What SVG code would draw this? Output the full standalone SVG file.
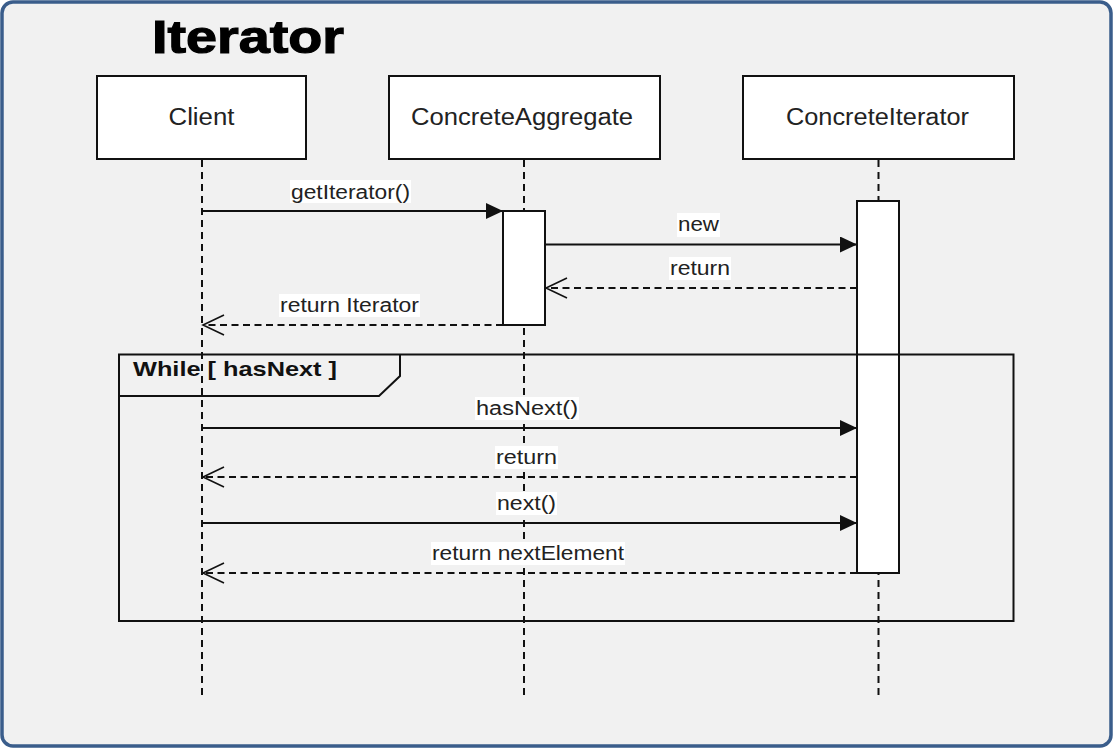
<svg xmlns="http://www.w3.org/2000/svg" width="1114" height="750" viewBox="0 0 1114 750">
<defs>
<style>
.box{fill:#fff;stroke:#111;stroke-width:2}
.life{stroke:#111;stroke-width:2;stroke-dasharray:7 5;fill:none}
.msg{stroke:#111;stroke-width:2;fill:none}
.ret{stroke:#111;stroke-width:2;fill:none;stroke-dasharray:7 4.5}
.lbl{font-family:"Liberation Sans",Arial,sans-serif;font-size:20px;fill:#222;text-anchor:middle}
.nm{font-family:"Liberation Sans",Arial,sans-serif;font-size:23px;fill:#222;text-anchor:middle}
.bg{fill:#fff}
</style>
<marker id="filled" markerWidth="18" markerHeight="16" refX="17" refY="8" orient="auto" markerUnits="userSpaceOnUse">
<path d="M0,0 L17,8 L0,16 Z" fill="#111"/>
</marker>
<marker id="open" markerWidth="24" markerHeight="22" refX="22" refY="11" orient="auto" markerUnits="userSpaceOnUse">
<path d="M1,1 L22,11 L1,21" fill="none" stroke="#111" stroke-width="1.6"/>
</marker>
</defs>
<rect x="0" y="0" width="1114" height="750" fill="#fff"/>
<rect x="2" y="2" width="1109" height="744" rx="11" ry="11" fill="#f1f1f1" stroke="#3a5d8b" stroke-width="3.5"/>
<text x="248" y="53" font-family="'Liberation Sans',Arial,sans-serif" font-size="47" font-weight="bold" fill="#000" stroke="#000" stroke-width="1.2" text-anchor="middle" textLength="192" lengthAdjust="spacingAndGlyphs">Iterator</text>

<g id="lifelines">
<line class="life" x1="202" y1="160" x2="202" y2="700"/>
<line class="life" x1="524" y1="160" x2="524" y2="700"/>
<line class="life" x1="878.5" y1="160" x2="878.5" y2="700"/>
</g>

<g id="client">
<rect class="box" x="97" y="76" width="209" height="83"/>
<text class="nm" x="201.5" y="125" textLength="66" lengthAdjust="spacingAndGlyphs">Client</text>
</g>
<g id="aggregate">
<rect class="box" x="389" y="76" width="271" height="83"/>
<text class="nm" x="522" y="125" textLength="222" lengthAdjust="spacingAndGlyphs">ConcreteAggregate</text>
<rect class="box" x="503" y="211" width="42" height="114"/>
</g>
<g id="iterator">
<rect class="box" x="743" y="76" width="271" height="83"/>
<text class="nm" x="877.5" y="125" textLength="183" lengthAdjust="spacingAndGlyphs">ConcreteIterator</text>
<rect class="box" x="857" y="201" width="42" height="372"/>
</g>

<g id="frame">
<rect x="119" y="354.5" width="894.5" height="266.5" fill="none" stroke="#111" stroke-width="2"/>
<path d="M119,396 L379,396 L400,376 L400,354.5" fill="none" stroke="#111" stroke-width="2"/>
<text x="133" y="376" font-family="'Liberation Sans',Arial,sans-serif" font-size="21" font-weight="bold" fill="#111" textLength="204" lengthAdjust="spacingAndGlyphs">While [ hasNext ]</text>
</g>

<g id="connectors">
<line class="msg" x1="202" y1="211" x2="503" y2="211" marker-end="url(#filled)"/>
<line class="msg" x1="545" y1="244.5" x2="857" y2="244.5" marker-end="url(#filled)"/>
<line class="ret" x1="857" y1="288" x2="546" y2="288" marker-end="url(#open)"/>
<line class="ret" x1="503" y1="325" x2="203" y2="325" marker-end="url(#open)"/>
<line class="msg" x1="202" y1="428" x2="857" y2="428" marker-end="url(#filled)"/>
<line class="ret" x1="857" y1="477" x2="203" y2="477" marker-end="url(#open)"/>
<line class="msg" x1="202" y1="523" x2="857" y2="523" marker-end="url(#filled)"/>
<line class="ret" x1="857" y1="573" x2="203" y2="573" marker-end="url(#open)"/>
</g>

<g id="labels">
<rect class="bg" x="290" y="180" width="121" height="23"/>
<text class="lbl" x="350.5" y="199" textLength="119" lengthAdjust="spacingAndGlyphs">getIterator()</text>
<rect class="bg" x="677" y="213" width="43" height="24"/>
<text class="lbl" x="698.5" y="231" textLength="41" lengthAdjust="spacingAndGlyphs">new</text>
<rect class="bg" x="669" y="257" width="62" height="23"/>
<text class="lbl" x="700" y="275" textLength="60" lengthAdjust="spacingAndGlyphs">return</text>
<rect class="bg" x="279" y="294" width="141" height="23"/>
<text class="lbl" x="349.5" y="312" textLength="139" lengthAdjust="spacingAndGlyphs">return Iterator</text>
<rect class="bg" x="475" y="397" width="104" height="23"/>
<text class="lbl" x="527" y="415" textLength="102" lengthAdjust="spacingAndGlyphs">hasNext()</text>
<rect class="bg" x="495" y="446" width="63" height="23"/>
<text class="lbl" x="526.5" y="464" textLength="61" lengthAdjust="spacingAndGlyphs">return</text>
<rect class="bg" x="496" y="492" width="61" height="23"/>
<text class="lbl" x="526.5" y="510" textLength="59" lengthAdjust="spacingAndGlyphs">next()</text>
<rect class="bg" x="431" y="542" width="194" height="23"/>
<text class="lbl" x="528" y="560" textLength="192" lengthAdjust="spacingAndGlyphs">return nextElement</text>
</g>
</svg>
